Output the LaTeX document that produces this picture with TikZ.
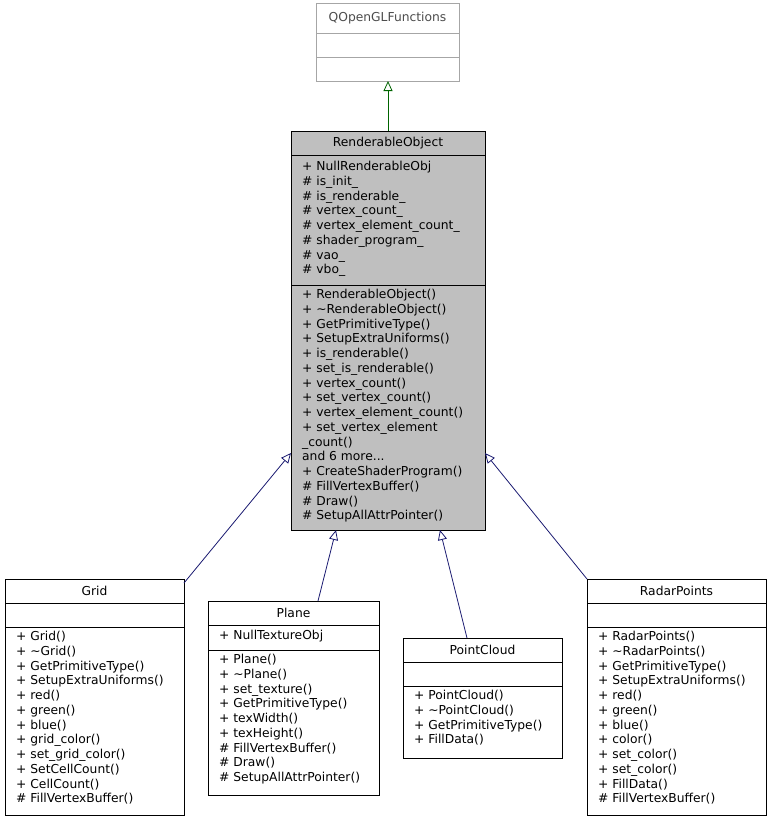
\documentclass[tikz,border=0pt]{standalone}
\usepackage{fontspec}
\setmainfont{DejaVu Sans}
\usetikzlibrary{arrows.meta}
\newcommand\fsz{\fontsize{12.3}{14.75}\selectfont}
\definecolor{navy}{HTML}{191970}
\definecolor{grn}{HTML}{006400}
\tikzset{
 box/.style={draw=black,fill=white,line width=0.8pt,inner sep=0,outer sep=0,anchor=north west},
 txt/.style={inner sep=0,font=\fsz,align=left,anchor=north west},
 ttl/.style={inner sep=0,font=\fsz,anchor=center},
 inh/.style={draw=navy,line width=0.8pt,-{Triangle[open,length=10,width=9]}},
}
\begin{document}
\begin{tikzpicture}[x=1pt,y=-1pt]
\useasboundingbox (0,0) rectangle (771,823);
% QOpenGLFunctions
\node[box,draw=gray!70,minimum width=143,minimum height=78] (q) at (316,3) {};
\draw[gray!70,line width=0.8pt] (316,33)--(459,33) (316,57)--(459,57);
\node[ttl,text=gray!60!black] (qt) at (387.5,18) {QOpenGLFunctions};
% RenderableObject
\node[box,fill=gray!50,minimum width=194,minimum height=399] (ro) at (291,131) {};
\draw[line width=0.8pt] (291,155)--(485,155) (291,285)--(485,285);
\node[ttl] (rot) at (388,143) {RenderableObject};
\node[txt] (roa) at (302,161) {+ NullRenderableObj\\\# is\_init\_\\\# is\_renderable\_\\\# vertex\_count\_\\\# vertex\_element\_count\_\\\# shader\_program\_\\\# vao\_\\\# vbo\_};
\node[txt] (rom) at (302,289) {+ RenderableObject()\\+ \textasciitilde RenderableObject()\\+ GetPrimitiveType()\\+ SetupExtraUniforms()\\+ is\_renderable()\\+ set\_is\_renderable()\\+ vertex\_count()\\+ set\_vertex\_count()\\+ vertex\_element\_count()\\+ set\_vertex\_element\\\_count()\\and 6 more...\\+ CreateShaderProgram()\\\# FillVertexBuffer()\\\# Draw()\\\# SetupAllAttrPointer()};
% Grid
\node[box,minimum width=179,minimum height=236] (g) at (5,579) {};
\draw[line width=0.8pt] (5,603)--(184,603) (5,627)--(184,627);
\node[ttl] (gt) at (94.5,591) {Grid};
\node[txt] (gm) at (16,631) {+ Grid()\\+ \textasciitilde Grid()\\+ GetPrimitiveType()\\+ SetupExtraUniforms()\\+ red()\\+ green()\\+ blue()\\+ grid\_color()\\+ set\_grid\_color()\\+ SetCellCount()\\+ CellCount()\\\# FillVertexBuffer()};
% Plane
\node[box,minimum width=171,minimum height=194] (p) at (208,601) {};
\draw[line width=0.8pt] (208,625)--(379,625) (208,650)--(379,650);
\node[ttl] (pt) at (293.5,613) {Plane};
\node[txt] (pa) at (219,630) {+ NullTextureObj};
\node[txt] (pm) at (219,654) {+ Plane()\\+ \textasciitilde Plane()\\+ set\_texture()\\+ GetPrimitiveType()\\+ texWidth()\\+ texHeight()\\\# FillVertexBuffer()\\\# Draw()\\\# SetupAllAttrPointer()};
% PointCloud
\node[box,minimum width=159,minimum height=120] (pc) at (403,638) {};
\draw[line width=0.8pt] (403,662)--(562,662) (403,686)--(562,686);
\node[ttl] (pct) at (482.5,650) {PointCloud};
\node[txt] (pcm) at (414,690) {+ PointCloud()\\+ \textasciitilde PointCloud()\\+ GetPrimitiveType()\\+ FillData()};
% RadarPoints
\node[box,minimum width=179,minimum height=236] (r) at (587,579) {};
\draw[line width=0.8pt] (587,603)--(766,603) (587,627)--(766,627);
\node[ttl] (rt) at (676.5,591) {RadarPoints};
\node[txt] (rm) at (598,631) {+ RadarPoints()\\+ \textasciitilde RadarPoints()\\+ GetPrimitiveType()\\+ SetupExtraUniforms()\\+ red()\\+ green()\\+ blue()\\+ color()\\+ set\_color()\\+ set\_color()\\+ FillData()\\\# FillVertexBuffer()};
% connectors
\coordinate (ro-t) at (388,131);
\coordinate (q-b) at (388,81);
\draw[inh,draw=grn] (ro-t) -- (q-b);
\coordinate (g-e) at (184,583);
\coordinate (ro-l) at (291,453);
\draw[inh] (g-e) -- (ro-l);
\coordinate (p-e) at (318,601);
\coordinate (ro-b1) at (336,530);
\draw[inh] (p-e) -- (ro-b1);
\coordinate (pc-e) at (467,638);
\coordinate (ro-b2) at (440,530);
\draw[inh] (pc-e) -- (ro-b2);
\coordinate (r-e) at (587,579);
\coordinate (ro-r) at (485,453);
\draw[inh] (r-e) -- (ro-r);
\end{tikzpicture}
\end{document}
